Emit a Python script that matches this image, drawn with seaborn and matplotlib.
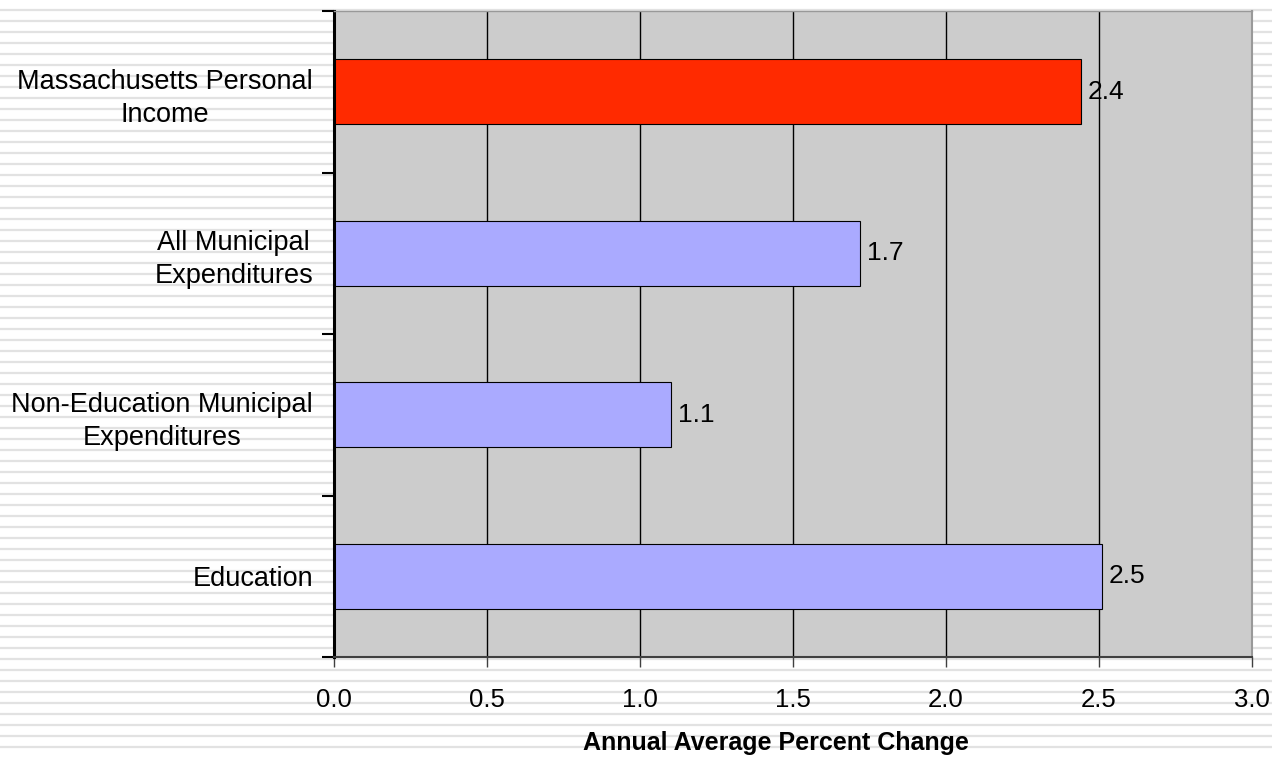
import numpy as np
import pandas as pd
import matplotlib
matplotlib.use("Agg")
import matplotlib.pyplot as plt
from matplotlib.ticker import FormatStrFormatter
import seaborn as sns

# Annual average percent change by category
categories = [
    "Massachusetts Personal\nIncome",
    "All Municipal\nExpenditures",
    "Non-Education Municipal\nExpenditures",
    "Education",
]
values = [2.44, 1.72, 1.10, 2.51]
bar_colors = ["#FF2A00", "#AAAAFF", "#AAAAFF", "#AAAAFF"]
x_ticks = [0.0, 0.5, 1.0, 1.5, 2.0, 2.5, 3.0]
x_label = "Annual Average Percent Change"

sns.set_style("white")
plt.rcParams["font.family"] = ["Liberation Sans", "DejaVu Sans"]
plt.rcParams["text.color"] = "black"
plt.rcParams["axes.labelcolor"] = "black"
plt.rcParams["xtick.labelcolor"] = "black"
plt.rcParams["ytick.labelcolor"] = "black"

W, H = 1272, 757
fig = plt.figure(figsize=(W / 100, H / 100), dpi=100)
fig.patch.set_facecolor("white")

# Striped page background behind the chart
bg = fig.add_axes([0, 0, 1, 1], zorder=-10)
bg.set_xlim(0, W)
bg.set_ylim(H, 0)
bg.axis("off")
stripe_y = np.arange(10, H + 1, 11)
bg.hlines(stripe_y, 0, W, colors="#E2E2E2", linewidth=1.6)

left, right, top, bottom = 334, 1252, 11, 657
ax = fig.add_axes([left / W, 1 - bottom / H, (right - left) / W, (bottom - top) / H])
ax.set_facecolor("#CCCCCC")

df = pd.DataFrame({"category": categories, "value": values})
sns.barplot(
    data=df, x="value", y="category", hue="category",
    palette=dict(zip(categories, bar_colors)), legend=False,
    orient="h", width=0.4, edgecolor="black", linewidth=0.8,
    saturation=1, ax=ax,
)

for cont in ax.containers:
    ax.bar_label(cont, fmt="%.1f", padding=5, fontsize=19, color="black")

# Axis ranges and ticks
ax.set_xlim(x_ticks[0], x_ticks[-1])
ax.set_xticks(x_ticks)
ax.xaxis.set_major_formatter(FormatStrFormatter("%.1f"))
ax.set_ylim(len(categories) - 0.5, -0.5)
ax.set_yticks(np.arange(len(categories) + 1) - 0.5, minor=True)

ax.tick_params(axis="x", which="major", length=7, width=1, color="#404040",
               labelsize=18.5, pad=15, bottom=True, labelcolor="black")
ax.tick_params(axis="y", which="major", length=0, labelsize=19.5, pad=15,
               labelcolor="black")
ax.tick_params(axis="y", which="minor", length=9, width=1.5, color="black", left=True)
for lbl in ax.get_yticklabels():
    lbl.set_multialignment("center")
    lbl.set_linespacing(1.35)

# Vertical gridlines
ax.set_axisbelow(True)
ax.grid(axis="x", color="black", linewidth=1)
ax.grid(axis="y", visible=False)

for side, (col, lw) in {"left": ("black", 2.2), "bottom": ("#404040", 1.5),
                        "top": ("#999999", 1.0), "right": ("#999999", 1.5)}.items():
    ax.spines[side].set_visible(True)
    ax.spines[side].set_color(col)
    ax.spines[side].set_linewidth(lw)

ax.set_ylabel("")
ax.set_xlabel(x_label, fontsize=18, fontweight="bold", color="black")
ax.xaxis.set_label_coords(776 / W, 1 - 750 / H, transform=fig.transFigure)
ax.xaxis.label.set_va("baseline")

fig.savefig("out.png", dpi=100)
